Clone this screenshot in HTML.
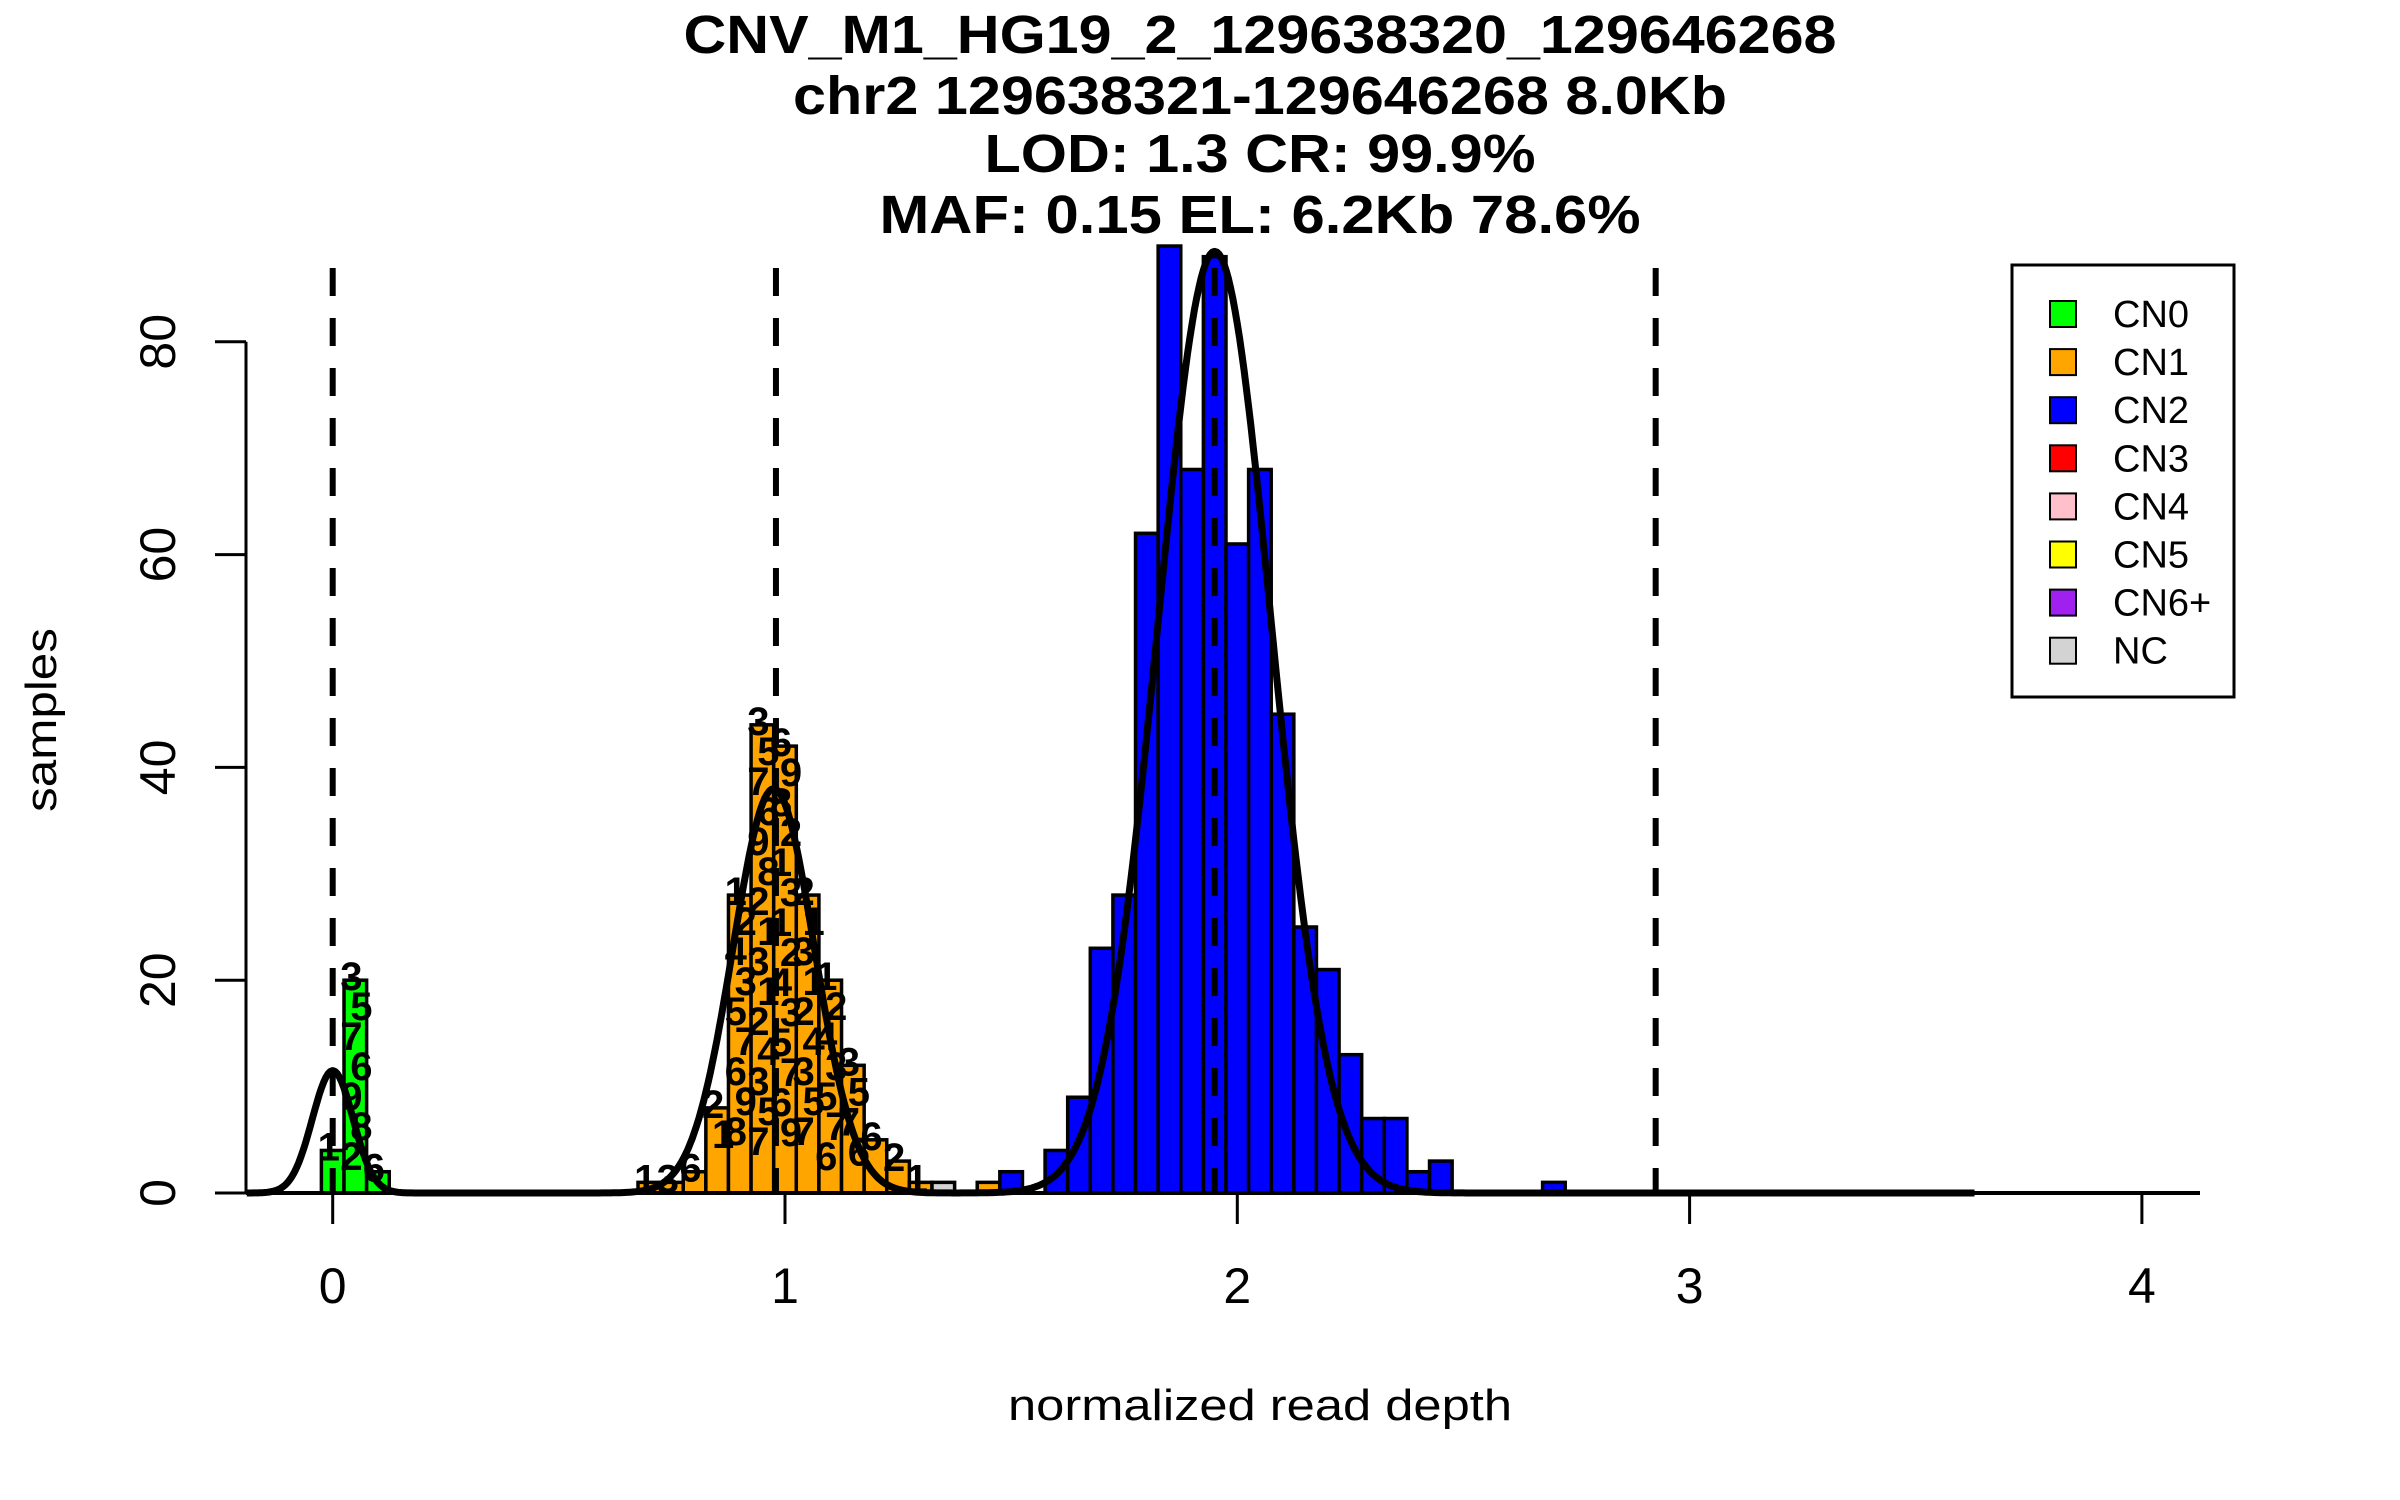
<!DOCTYPE html>
<html><head><meta charset="utf-8">
<style>
html,body{margin:0;padding:0;background:#fff;}
svg{display:block;font-family:"Liberation Sans",Arial,sans-serif;}
</style></head>
<body>
<svg id="chart" width="2400" height="1500" viewBox="0 0 2400 1500" xmlns="http://www.w3.org/2000/svg">
<rect x="0" y="0" width="2400" height="1500" fill="#fff"/>
<g font-weight="bold" font-size="54" text-anchor="middle">
<text x="1260" y="53" textLength="1153" lengthAdjust="spacingAndGlyphs">CNV_M1_HG19_2_129638320_129646268</text>
<text x="1260" y="114" textLength="934" lengthAdjust="spacingAndGlyphs">chr2 129638321-129646268 8.0Kb</text>
<text x="1260" y="172" textLength="551" lengthAdjust="spacingAndGlyphs">LOD: 1.3 CR: 99.9%</text>
<text x="1260" y="233" textLength="761" lengthAdjust="spacingAndGlyphs">MAF: 0.15 EL: 6.2Kb 78.6%</text>
</g>
<g id="bars"></g>
<g id="labels" font-weight="bold" font-size="40" text-anchor="middle"></g>
<g id="dashes"></g>
<path id="curve" fill="none" stroke="#000" stroke-width="7" stroke-linejoin="round"/>
<g id="axes"></g>
<text x="1260" y="1420" font-size="44" text-anchor="middle" textLength="504" lengthAdjust="spacingAndGlyphs">normalized read depth</text>
<text transform="translate(56,720) rotate(-90)" font-size="44" text-anchor="middle" textLength="184" lengthAdjust="spacingAndGlyphs">samples</text>
<g id="legend"></g>
</svg>
<script>
const binWidth = 0.05;
const cn0Centers = [0, 0.05, 0.1];
const cn0Counts = [4, 20, 2];
const cn1Centers = [0.7, 0.75, 0.8, 0.85, 0.9, 0.95, 1.0, 1.05, 1.1, 1.15, 1.2, 1.25, 1.3, 1.45];
const cn1Counts = [1, 1, 2, 8, 28, 44, 42, 28, 20, 12, 5, 3, 1, 1];
const ncCenters = [1.35];
const ncCounts = [1];
const cn2Centers = [1.5, 1.6, 1.65, 1.7, 1.75, 1.8, 1.85, 1.9, 1.95, 2.0, 2.05, 2.1, 2.15, 2.2, 2.25, 2.3, 2.35, 2.4, 2.45, 2.7];
const cn2Counts = [2, 4, 9, 23, 28, 62, 89, 68, 88, 61, 68, 45, 25, 21, 13, 7, 7, 2, 3, 1];
const fitMeans = [0.0, 0.975, 1.95];
const fitSds = [0.045, 0.09, 0.125];
const fitPeaks = [11.5, 38, 88.5];
const thresholds = [0.0, 0.98, 1.95, 2.925];
const xTicks = [0, 1, 2, 3, 4];
const yTicks = [0, 20, 40, 60, 80];
const legendLabels = ["CN0", "CN1", "CN2", "CN3", "CN4", "CN5", "CN6+", "NC"];
const legendColors = ["#00ff00", "#ffa500", "#0000ff", "#ff0000", "#ffc0cb", "#ffff00", "#a020f0", "#d3d3d3"];
const labelDigits = ["1","2","4","3","5","7","6","9","8","2","1","3"];

const NS = "http://www.w3.org/2000/svg";
const X = v => 332.7 + v * 452.3;
const Y = c => 1193 - c * 10.64;
function mk(tag, attrs, parent) {
  const e = document.createElementNS(NS, tag);
  for (const k in attrs) e.setAttribute(k, attrs[k]);
  parent.appendChild(e);
  return e;
}
const gBars = document.getElementById('bars');
function drawBars(centers, counts, color, nm) {
  centers.forEach((c, i) => {
    const x0 = X(c - binWidth / 2), x1 = X(c + binWidth / 2);
    const r = mk('rect', {x: x0, y: Y(counts[i]), width: x1 - x0, height: Y(0) - Y(counts[i]), fill: color, stroke: '#000', 'stroke-width': 3.5}, gBars);
    
    
  });
}
drawBars(cn0Centers, cn0Counts, '#00ff00', 'cn0');
drawBars(cn1Centers, cn1Counts, '#ffa500', 'cn1');
drawBars(ncCenters, ncCounts, '#d3d3d3', 'nc');
drawBars(cn2Centers, cn2Counts, '#0000ff', 'cn2');

const gLab = document.getElementById('labels');
function drawLabels(centers, counts) {
  centers.forEach((c, i) => {
    const top = Y(counts[i]);
    const n = Math.max(1, Math.floor((Y(0) - top) / 30));
    for (let k = 0; k < n; k++) {
      const t = mk('text', {x: X(c) + ((k % 2) ? 6 : -4), y: top + 10 + k * 30}, gLab);
      t.textContent = labelDigits[(i * 3 + k) % labelDigits.length];
      
      
    }
  });
}
drawLabels(cn0Centers, cn0Counts);
drawLabels(cn1Centers.slice(0, 13), cn1Counts.slice(0, 13));

const gD = document.getElementById('dashes');
thresholds.forEach(t => {
  const l = mk('line', {x1: X(t), x2: X(t), y1: 268, y2: Y(0), stroke: '#000', 'stroke-width': 6, 'stroke-dasharray': '28 22'}, gD);
  
  
});

let d = '';
for (let v = -0.19; v <= 3.63; v += 0.005) {
  let s = 0;
  for (let j = 0; j < fitMeans.length; j++) s += fitPeaks[j] * Math.exp(-Math.pow(v - fitMeans[j], 2) / (2 * fitSds[j] * fitSds[j]));
  d += (d ? 'L' : 'M') + X(v).toFixed(1) + ' ' + Y(s).toFixed(1);
}
document.getElementById('curve').setAttribute('d', d);

const gA = document.getElementById('axes');
mk('line', {x1: 246, x2: 2200, y1: Y(0), y2: Y(0), stroke: '#000', 'stroke-width': 4}, gA);
mk('line', {x1: 246, x2: 246, y1: Y(0), y2: Y(80), stroke: '#000', 'stroke-width': 3}, gA);
xTicks.forEach(t => {
  mk('line', {x1: X(t), x2: X(t), y1: Y(0), y2: 1224, stroke: '#000', 'stroke-width': 3}, gA);
  const tx = mk('text', {x: X(t), y: 1303, 'font-size': 50, 'text-anchor': 'middle'}, gA);
  tx.textContent = t;
  
  
});
yTicks.forEach(t => {
  mk('line', {x1: 215, x2: 246, y1: Y(t), y2: Y(t), stroke: '#000', 'stroke-width': 3}, gA);
  const tx = mk('text', {x: 0, y: 0, 'font-size': 50, 'text-anchor': 'middle', transform: 'translate(175,' + Y(t) + ') rotate(-90)'}, gA);
  tx.textContent = t;
  
  
});

const gL = document.getElementById('legend');
const box = mk('rect', {x: 2012, y: 265, width: 222, height: 432, fill: '#fff', stroke: '#000', 'stroke-width': 3}, gL);


legendLabels.forEach((lab, i) => {
  const cy = 314 + i * 48.1;
  const sq = mk('rect', {x: 2050, y: cy - 13, width: 26, height: 26, fill: legendColors[i], stroke: '#000', 'stroke-width': 2}, gL);
  
  
  const tx = mk('text', {x: 2113, y: cy + 13, 'font-size': 38}, gL);
  tx.textContent = lab;
  
  
});
</script>
</body></html>
